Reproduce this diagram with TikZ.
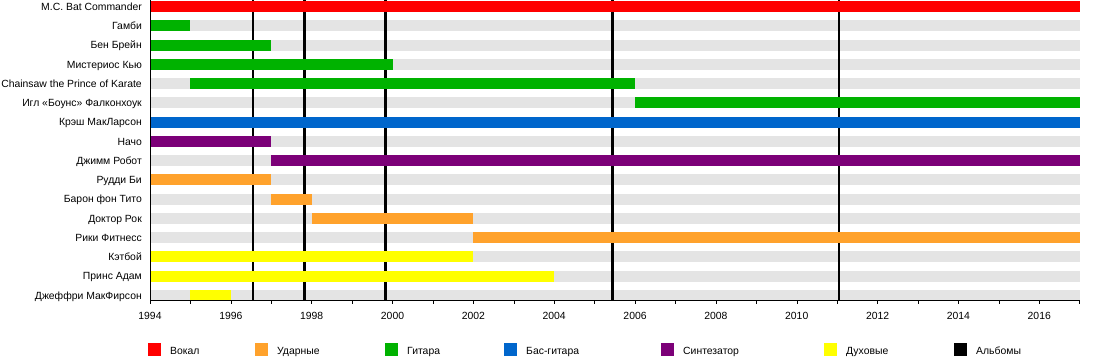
\documentclass[tikz,border=0pt]{standalone}
\usepackage{fontspec}
\setmainfont{Liberation Sans}
\usetikzlibrary{positioning}
\definecolor{vocalcolor}{RGB}{255,0,0}
\definecolor{drumcolor}{RGB}{255,162,44}
\definecolor{guitarcolor}{RGB}{0,178,0}
\definecolor{basscolor}{RGB}{0,102,204}
\definecolor{synthcolor}{RGB}{124,0,120}
\definecolor{horncolor}{RGB}{255,255,0}
\definecolor{rowcolor}{RGB}{228,228,228}

\begin{document}
\begin{tikzpicture}[x=1pt, y=-1pt, font=\fontsize{10.4}{12}\selectfont]
  \useasboundingbox (0,0) rectangle (1100,360);
  % Scale: 1 year = 40.42px, 1994 at x=150
  \def\yr{40.42}
  \def\rowh{19.25}

  % Gray row backgrounds and member names
  \foreach \i/\name in {0/{M.C. Bat Commander},1/{Гамби},2/{Бен Брейн},3/{Мистериос Кью},
      4/{Chainsaw the Prince of Karate},5/{Игл «Боунс» Фалконхоук},6/{Крэш МакЛарсон},
      7/{Начо},8/{Джимм Робот},9/{Рудди Би},10/{Барон фон Тито},11/{Доктор Рок},
      12/{Рики Фитнесс},13/{Кэтбой},14/{Принс Адам},15/{Джеффри МакФирсон}} {
    \fill[rowcolor] (150, {6.5+\i*\rowh-5.5}) rectangle ({150+23*\yr}, {6.5+\i*\rowh+5.5});
    \node[anchor=base east, inner sep=0pt] (name\i) at (142, {6.5+\i*\rowh+3.8}) {\name};
  }

  % Album release lines
  \foreach \a in {1996.55,1997.82,1999.83,2005.44,2011.05}
    \draw[line width=2.6pt] ({150+(\a-1994)*\yr}, 0) -- ({150+(\a-1994)*\yr}, 300.5);

  % Membership bars (row/from/to/colour)
  \foreach \i/\from/\to/\col in {0/1994/2017/vocalcolor,
      1/1994/1995/guitarcolor, 2/1994/1997/guitarcolor, 3/1994/2000/guitarcolor,
      4/1995/2006/guitarcolor, 5/2006/2017/guitarcolor,
      6/1994/2017/basscolor,
      7/1994/1997/synthcolor, 8/1997/2017/synthcolor,
      9/1994/1997/drumcolor, 10/1997/1998/drumcolor, 11/1998/2002/drumcolor,
      12/2002/2017/drumcolor,
      13/1994/2002/horncolor, 14/1994/2004/horncolor, 15/1995/1996/horncolor}
    \fill[\col] ({150+(\from-1994)*\yr}, {6.5+\i*\rowh-5.5})
      rectangle ({150+(\to-1994)*\yr}, {6.5+\i*\rowh+5.5});

  % Axes
  \draw[thin] (150,0) -- (150,300.5) -- ({150+23*\yr},300.5);
  \foreach \y in {1994,...,2017}
    \draw[thin] ({150+(\y-1994)*\yr}, 300.5) -- ({150+(\y-1994)*\yr}, 304);
  \foreach \y in {1994,1996,...,2016}
    \node[anchor=base, inner sep=0pt] (year\y) at ({150+(\y-1994)*\yr}, 319.3) {\y};

  % Legend
  \foreach \x/\col/\txt in {148/vocalcolor/Вокал, 255/drumcolor/Ударные,
      385/guitarcolor/Гитара, 504/basscolor/Бас-гитара, 661/synthcolor/Синтезатор,
      824/horncolor/Духовые, 954/black/Альбомы} {
    \fill[\col] (\x, 343) rectangle ({\x+13}, 356);
    \node[anchor=base west, inner sep=0pt] (key\x) at ({\x+22}, 354) {\txt};
  }

\end{tikzpicture}
\end{document}
